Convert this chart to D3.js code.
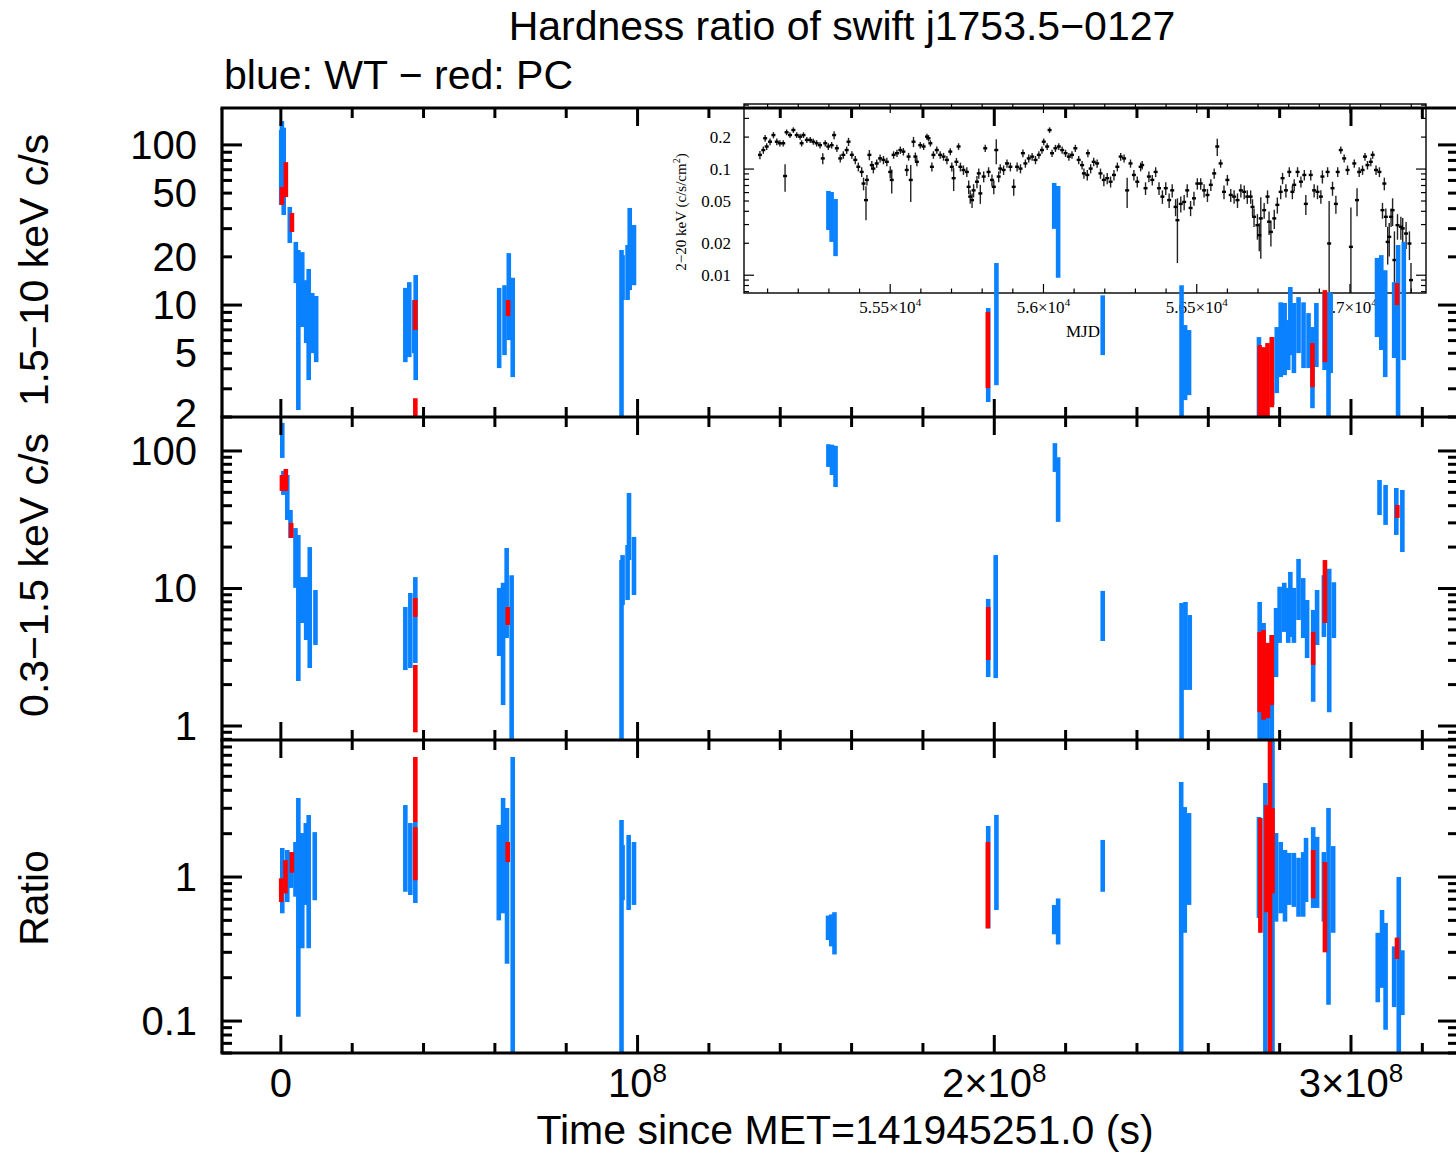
<!DOCTYPE html>
<html>
<head>
<meta charset="utf-8">
<script src="https://cdn.jsdelivr.net/npm/d3@7"></script>
<style>
  body { margin: 0; background: #fff; }
  svg { display: block; }
  text { font-family: "Liberation Sans", Arial, sans-serif; fill: #000; }
  .serif { font-family: "Liberation Serif", "Times New Roman", serif; }
</style>
</head>
<body>
<svg id="chart" width="1456" height="1156"></svg>
<script>
'use strict';

// time in units of 1e6 s since MET=141945251.0 ; each entry [t, low, high]
var hardWT = [
  [0.1, 42.2, 124], [0.3, 70, 141], [0.8, 36.5, 128], [2.5, 24.4, 41], [4.2, 13.7, 24.8],
  [4.9, 2.21, 22.1], [6.0, 7.29, 21.4], [7.1, 5.79, 14.3], [7.8, 3.40, 16.8], [8.8, 5.01, 11.9],
  [9.9, 4.40, 11.4],
  [34.9, 4.40, 12.8], [36.0, 4.73, 13.9], [37.4, 5.01, 10.75], [37.8, 3.40, 15.4],
  [61.2, 4.04, 12.8], [62.7, 4.87, 13.3], [63.9, 6.04, 21.1], [65.0, 3.55, 14.8],
  [95.5, 1.5, 22.1], [95.8, 10.75, 20.5], [97.2, 10.75, 23.7], [97.8, 12.4, 40.4], [99.0, 13.3, 31.6],
  [153.5, 29.4, 51.6], [154.4, 24.8, 50.8], [155.5, 20.2, 46],
  [198.3, 2.48, 9.58], [200.6, 3.16, 18.3],
  [216.8, 29.9, 57.9], [217.9, 14.8, 55.4],
  [230.4, 4.87, 11.5],
  [252.5, 1.5, 13.3], [253.5, 2.55, 7.5], [254.6, 2.74, 6.98],
  [274.2, 1.5, 6.31], [275.4, 1.5, 5.39], [277.9, 2.37, 6.31], [279.2, 2.82, 7.29], [280.3, 3.55, 10.4],
  [281.4, 3.65, 10.3], [282.4, 3.93, 8.06], [283.0, 4.87, 12.96], [284.0, 3.76, 10.3], [285.3, 5.01, 11.2],
  [286.7, 4.04, 10.4], [288.1, 4.04, 8.91], [289.2, 2.27, 7.29], [290.3, 4.10, 10.3], [292.6, 3.93, 11.9],
  [293.7, 1.5, 12.05], [294.3, 3.76, 11.9],
  [307.3, 6.31, 19.7], [308.5, 5.24, 20.5], [309.6, 3.55, 16.5], [312.1, 4.67, 13.9], [313.2, 1.5, 23.7],
  [314.8, 4.53, 24.8]
];
var hardPC = [
  [0.3, 42.2, 54.6], [1.4, 47.3, 78], [3.1, 28.6, 37.6],
  [37.7, 6.98, 10.75], [37.7, 1.5, 2.62],
  [63.7, 8.53, 10.75],
  [198.2, 3.03, 9.04],
  [274.4, 1.5, 5.62], [275.5, 1.5, 5.46], [276.6, 1.5, 5.79], [277.8, 2.30, 6.31], [289.2, 3.07, 5.79],
  [292.7, 4.40, 12.4],
  [312.9, 10, 13.7]
];
var softWT = [
  [0.4, 89, 160], [0.7, 47.9, 71.6], [1.8, 31.5, 66.9], [2.7, 23.3, 37.2], [4.1, 10.1, 27.5],
  [4.9, 2.12, 24.5], [6.0, 5.61, 12.1], [7.1, 4.22, 12.1], [8.1, 2.64, 20.0], [9.7, 3.88, 9.75],
  [34.9, 2.55, 7.33], [36.3, 2.64, 9.27], [37.7, 2.87, 12.1],
  [61.2, 3.23, 10.1], [62.3, 1.42, 11.0], [63.3, 4.36, 19.7], [64.7, 0.5, 12.5],
  [95.5, 0.5, 16.1], [95.8, 7.59, 17.5], [97.2, 8.25, 20.7], [97.6, 16.1, 49.5], [99.0, 8.97, 23.7],
  [153.5, 76.5, 112], [154.5, 66.9, 111], [155.5, 54.7, 109],
  [198.3, 2.27, 8.39], [200.4, 2.23, 17.5],
  [217.0, 70.4, 114], [217.9, 30.5, 90],
  [230.4, 4.15, 9.6],
  [252.5, 0.5, 7.85], [253.6, 1.83, 7.98], [254.8, 1.83, 6.41],
  [274.4, 0.5, 7.98], [275.5, 0.5, 5.61], [276.6, 0.5, 4.02], [277.8, 0.5, 4.59], [279.0, 2.27, 7.21],
  [280.0, 4.02, 10.3], [281.3, 4.83, 11.0], [282.4, 4.02, 10.1], [283.0, 4.44, 13.2], [284.0, 4.02, 10.1],
  [285.3, 5.90, 16.4], [286.6, 4.36, 11.9], [287.7, 3.12, 8.25], [289.4, 1.50, 6.98], [290.5, 3.88, 9.75],
  [292.4, 4.44, 12.5], [293.9, 1.26, 13.9], [295.2, 4.36, 11.1],
  [308.0, 34.2, 61.5], [309.7, 29.0, 56.6], [312.7, 24.5, 53.8], [314.4, 18.4, 52.0]
];
var softPC = [
  [0.3, 51.2, 66.9], [1.4, 51.2, 74], [2.9, 23.3, 30.0],
  [37.7, 6.21, 8.53], [37.7, 0.90, 2.78],
  [63.6, 5.43, 7.33],
  [198.3, 3.02, 7.33],
  [274.4, 1.26, 4.83], [275.5, 1.11, 4.99], [276.7, 1.14, 4.02], [277.8, 1.42, 4.59], [289.4, 2.78, 4.83],
  [292.7, 5.61, 16.1],
  [313.0, 32.6, 40.5]
];
var ratioWT = [
  [0.4, 0.56, 1.59], [1.8, 0.67, 1.54], [2.9, 0.84, 1.49], [4.1, 0.73, 1.75], [4.9, 0.107, 3.54],
  [6.0, 0.32, 2.02], [7.0, 0.64, 2.37], [7.8, 0.32, 2.70], [9.5, 0.69, 2.05],
  [34.9, 0.79, 3.16], [36.3, 0.75, 2.37], [37.7, 0.66, 2.41],
  [61.1, 0.50, 2.30], [62.3, 0.56, 3.54], [63.4, 0.25, 3.01], [65.0, 0.03, 6.81],
  [95.5, 0.03, 2.49], [95.8, 0.69, 1.67], [97.5, 0.59, 1.96], [99.0, 0.64, 1.75],
  [153.4, 0.365, 0.54], [154.3, 0.33, 0.55], [155.2, 0.29, 0.57],
  [198.3, 0.44, 2.26], [200.6, 0.59, 2.70],
  [216.8, 0.40, 0.64], [217.9, 0.34, 0.71],
  [230.4, 0.79, 1.81],
  [252.4, 0.03, 4.57], [253.4, 0.41, 3.06], [254.6, 0.64, 2.78],
  [274.2, 0.52, 2.61], [276.0, 0.03, 4.50], [278.0, 0.03, 20], [279.0, 0.49, 2.02], [280.3, 0.56, 1.75],
  [281.5, 0.49, 1.54], [282.7, 0.64, 1.47], [284.0, 0.62, 1.47], [285.3, 0.53, 1.36], [286.6, 0.53, 1.49],
  [287.4, 0.67, 1.87], [289.4, 0.61, 2.22], [290.5, 0.61, 1.90], [292.4, 0.49, 1.49], [293.7, 0.13, 3.01],
  [295.0, 0.41, 1.64],
  [307.5, 0.135, 0.41], [308.7, 0.17, 0.59], [309.7, 0.087, 0.48], [312.1, 0.125, 0.33], [313.4, 0.03, 1.0],
  [314.4, 0.11, 0.31]
];
var ratioPC = [
  [0.1, 0.67, 0.98], [1.3, 0.77, 1.31], [3.1, 1.07, 1.49],
  [37.7, 2.41, 6.81], [37.7, 0.95, 2.22],
  [63.6, 1.27, 1.75],
  [198.2, 0.44, 1.75],
  [274.6, 0.41, 2.57], [276.3, 0.57, 3.16], [277.3, 0.03, 20], [278.0, 0.77, 3.01], [289.4, 0.71, 1.54],
  [292.7, 0.30, 1.27],
  [312.9, 0.27, 0.38]
];

// inset: 2-20 keV light curve [MJD, flux, error]
var lightCurve = [
  [55075, 0.136, 0.012], [55086, 0.151, 0.012], [55092, 0.195, 0.014], [55097, 0.163, 0.012], [55108, 0.181, 0.013],
  [55119, 0.209, 0.014], [55130, 0.181, 0.013], [55140, 0.175, 0.012], [55151, 0.175, 0.012], [55157, 0.086, 0.025],
  [55162, 0.222, 0.014], [55173, 0.209, 0.013], [55184, 0.233, 0.014], [55195, 0.209, 0.013], [55206, 0.202, 0.013],
  [55211, 0.175, 0.012], [55217, 0.209, 0.013], [55228, 0.188, 0.012], [55239, 0.188, 0.012], [55249, 0.181, 0.012],
  [55260, 0.175, 0.012], [55271, 0.168, 0.012], [55280, 0.126, 0.015], [55288, 0.175, 0.012], [55298, 0.163, 0.012],
  [55309, 0.168, 0.012], [55317, 0.209, 0.018], [55326, 0.157, 0.012], [55337, 0.126, 0.011], [55347, 0.136, 0.011],
  [55358, 0.151, 0.012], [55364, 0.181, 0.016], [55375, 0.136, 0.011], [55386, 0.122, 0.011], [55396, 0.105, 0.01],
  [55407, 0.094, 0.01], [55413, 0.073, 0.01], [55421, 0.051, 0.018], [55424, 0.079, 0.009], [55432, 0.136, 0.015],
  [55440, 0.109, 0.01], [55445, 0.101, 0.01], [55456, 0.113, 0.01], [55467, 0.126, 0.011], [55478, 0.122, 0.011],
  [55489, 0.117, 0.011], [55500, 0.094, 0.012], [55505, 0.079, 0.02], [55511, 0.136, 0.011], [55522, 0.141, 0.011],
  [55533, 0.151, 0.012], [55543, 0.146, 0.012], [55554, 0.098, 0.012], [55560, 0.131, 0.011], [55567, 0.079, 0.03],
  [55576, 0.181, 0.02], [55582, 0.131, 0.012], [55587, 0.117, 0.011], [55598, 0.168, 0.012], [55609, 0.163, 0.012],
  [55620, 0.202, 0.013], [55625, 0.195, 0.013], [55631, 0.175, 0.012], [55636, 0.105, 0.01], [55641, 0.136, 0.011],
  [55652, 0.151, 0.012], [55663, 0.136, 0.011], [55674, 0.131, 0.011], [55685, 0.122, 0.011], [55696, 0.146, 0.011],
  [55701, 0.105, 0.01], [55707, 0.082, 0.02], [55716, 0.117, 0.01], [55723, 0.163, 0.012], [55729, 0.105, 0.01],
  [55739, 0.098, 0.01], [55750, 0.094, 0.01], [55756, 0.068, 0.01], [55761, 0.055, 0.008], [55767, 0.051, 0.008],
  [55772, 0.063, 0.009], [55783, 0.076, 0.01], [55789, 0.091, 0.01], [55794, 0.059, 0.012], [55805, 0.085, 0.01],
  [55810, 0.157, 0.012], [55821, 0.094, 0.01], [55832, 0.079, 0.01], [55838, 0.068, 0.01], [55846, 0.151, 0.04],
  [55854, 0.085, 0.01], [55859, 0.101, 0.01], [55870, 0.098, 0.01], [55881, 0.113, 0.01], [55892, 0.105, 0.01],
  [55903, 0.068, 0.012], [55914, 0.105, 0.01], [55925, 0.101, 0.01], [55933, 0.141, 0.012], [55941, 0.113, 0.01],
  [55952, 0.126, 0.011], [55963, 0.131, 0.011], [55974, 0.122, 0.011], [55985, 0.136, 0.011], [55995, 0.151, 0.012],
  [56001, 0.181, 0.013], [56012, 0.163, 0.012], [56020, 0.233, 0.014], [56028, 0.141, 0.011], [56039, 0.157, 0.012],
  [56050, 0.163, 0.012], [56061, 0.151, 0.012], [56072, 0.141, 0.011], [56083, 0.131, 0.011], [56093, 0.136, 0.011],
  [56104, 0.157, 0.012], [56115, 0.122, 0.011], [56126, 0.109, 0.01], [56132, 0.091, 0.01], [56143, 0.088, 0.01],
  [56145, 0.141, 0.012], [56154, 0.101, 0.01], [56164, 0.117, 0.011], [56175, 0.113, 0.01], [56186, 0.091, 0.01],
  [56197, 0.079, 0.01], [56208, 0.082, 0.01], [56219, 0.076, 0.009], [56230, 0.088, 0.01], [56241, 0.105, 0.01],
  [56252, 0.131, 0.011], [56263, 0.126, 0.011], [56273, 0.063, 0.02], [56284, 0.113, 0.01], [56295, 0.088, 0.01],
  [56306, 0.076, 0.009], [56317, 0.105, 0.01], [56322, 0.109, 0.01], [56333, 0.066, 0.009], [56344, 0.085, 0.01],
  [56355, 0.079, 0.009], [56366, 0.094, 0.01], [56377, 0.066, 0.009], [56388, 0.055, 0.008], [56399, 0.066, 0.009],
  [56410, 0.051, 0.008], [56420, 0.063, 0.009], [56431, 0.044, 0.008], [56437, 0.033, 0.02], [56448, 0.047, 0.008],
  [56459, 0.049, 0.008], [56469, 0.063, 0.009], [56480, 0.043, 0.007], [56491, 0.053, 0.008], [56502, 0.073, 0.009],
  [56513, 0.073, 0.009], [56524, 0.063, 0.009], [56535, 0.057, 0.008], [56546, 0.071, 0.009], [56557, 0.091, 0.01],
  [56567, 0.163, 0.03], [56578, 0.113, 0.01], [56589, 0.061, 0.009], [56600, 0.079, 0.009], [56611, 0.057, 0.008],
  [56622, 0.055, 0.008], [56633, 0.051, 0.008], [56644, 0.063, 0.009], [56655, 0.061, 0.009], [56665, 0.055, 0.008],
  [56676, 0.055, 0.008], [56682, 0.044, 0.008], [56687, 0.0355, 0.007], [56698, 0.0296, 0.008], [56704, 0.0238, 0.007],
  [56709, 0.0343, 0.02], [56720, 0.041, 0.007], [56731, 0.055, 0.008], [56736, 0.0319, 0.008], [56742, 0.0256, 0.007],
  [56753, 0.0343, 0.007], [56763, 0.046, 0.008], [56774, 0.061, 0.009], [56780, 0.082, 0.01], [56791, 0.063, 0.009],
  [56802, 0.094, 0.01], [56812, 0.061, 0.009], [56818, 0.071, 0.009], [56829, 0.094, 0.01], [56840, 0.076, 0.009],
  [56851, 0.088, 0.01], [56856, 0.047, 0.01], [56872, 0.088, 0.01], [56883, 0.063, 0.009], [56894, 0.061, 0.009],
  [56905, 0.055, 0.008], [56910, 0.085, 0.012], [56927, 0.094, 0.01], [56932, 0.0199, 0.03], [56943, 0.066, 0.01],
  [56954, 0.047, 0.009], [56960, 0.094, 0.01], [56970, 0.151, 0.012], [56981, 0.126, 0.011], [56992, 0.098, 0.01],
  [57003, 0.0185, 0.025], [57014, 0.113, 0.01], [57023, 0.051, 0.015], [57030, 0.094, 0.01], [57041, 0.098, 0.01],
  [57049, 0.131, 0.011], [57057, 0.109, 0.01], [57068, 0.117, 0.011], [57074, 0.136, 0.011], [57085, 0.098, 0.01],
  [57096, 0.094, 0.01], [57106, 0.041, 0.007], [57112, 0.073, 0.01], [57117, 0.0355, 0.007], [57123, 0.0206, 0.008],
  [57128, 0.023, 0.008], [57134, 0.0355, 0.007], [57139, 0.041, 0.012], [57145, 0.0139, 0.012], [57155, 0.0296, 0.008],
  [57166, 0.0286, 0.007], [57172, 0.0276, 0.007], [57183, 0.0247, 0.007], [57194, 0.0199, 0.006], [57199, 0.009, 0.004]
];

var hardLabels = [100, 50, 20, 10, 5, 2];
var softLabels = [100, 10, 1];
var ratioLabels = [1, 0.1];
var timeTicks = [0, 1e8, 2e8, 3e8];
var timeTickText = [['0', ''], ['10', '8'], ['2×10', '8'], ['3×10', '8']];
var insetMjdTicks = [55500, 56000, 56500, 57000];
var insetMjdText = ['5.55', '5.6', '5.65', '5.7'];
var insetFluxLabels = [0.2, 0.1, 0.05, 0.02, 0.01];

var BLUE = '#0a82ff';
var RED = '#ff0000';
var LEFT = 222, RIGHT = 1458;

var svg = d3.select('#chart');
svg.append('rect').attr('width', 1456).attr('height', 1156).attr('fill', '#fff');

var x = d3.scaleLinear().domain([-0.165e8, 3.3e8]).range([LEFT, RIGHT]);

var panels = [
  {id: 'hard', top: 108, bottom: 417, domain: [2.0, 170], labels: hardLabels,
    title: '1.5−10 keV c/s', wt: hardWT, pc: hardPC},
  {id: 'soft', top: 417, bottom: 740, domain: [0.791, 176.6], labels: softLabels,
    title: '0.3−1.5 keV c/s', wt: softWT, pc: softPC},
  {id: 'ratio', top: 740, bottom: 1053, domain: [0.060, 8.94], labels: ratioLabels,
    title: 'Ratio', wt: ratioWT, pc: ratioPC}
];
panels.forEach(function (p) {
  p.y = d3.scaleLog().domain(p.domain).range([p.bottom, p.top]);
});

var defs = svg.append('defs');
panels.forEach(function (p) {
  defs.append('clipPath').attr('id', 'clip-' + p.id)
    .append('rect').attr('x', LEFT).attr('y', p.top).attr('width', RIGHT - LEFT).attr('height', p.bottom - p.top);
});

// ---- inset light curve (drawn first so the hardness data sits on top) ----
var ix = d3.scaleLinear().domain([55023, 57248]).range([744, 1426]);
var iy = d3.scaleLog().domain([0.0068, 0.41]).range([293, 104]);
var inset = svg.append('g');
inset.append('rect').attr('x', 744).attr('y', 104).attr('width', 682).attr('height', 189)
  .attr('fill', '#fff');
defs.append('clipPath').attr('id', 'clip-inset')
  .append('rect').attr('x', 744).attr('y', 104).attr('width', 682).attr('height', 189);

var lc = inset.append('g').attr('clip-path', 'url(#clip-inset)');
lc.selectAll('line.err').data(lightCurve).enter().append('line')
  .attr('class', 'err')
  .attr('x1', function (d) { return ix(d[0]); })
  .attr('x2', function (d) { return ix(d[0]); })
  .attr('y1', function (d) { return iy(Math.max(d[1] - d[2], 1e-4)); })
  .attr('y2', function (d) { return iy(d[1] + d[2]); })
  .attr('stroke', '#222').attr('stroke-width', 1.4);
lc.selectAll('line.bin').data(lightCurve).enter().append('line')
  .attr('class', 'bin')
  .attr('x1', function (d) { return ix(d[0]) - 2; })
  .attr('x2', function (d) { return ix(d[0]) + 2; })
  .attr('y1', function (d) { return iy(d[1]); })
  .attr('y2', function (d) { return iy(d[1]); })
  .attr('stroke', '#000').attr('stroke-width', 2.4);

var insetAxes = inset.append('g').attr('stroke', '#000');
d3.range(55100, 57201, 100).forEach(function (m) {
  var major = insetMjdTicks.indexOf(m) >= 0;
  var len = major ? 9 : 4.5;
  insetAxes.append('line').attr('x1', ix(m)).attr('x2', ix(m)).attr('y1', 293).attr('y2', 293 - len).attr('stroke-width', 1.2);
  insetAxes.append('line').attr('x1', ix(m)).attr('x2', ix(m)).attr('y1', 104).attr('y2', 104 + len).attr('stroke-width', 1.2);
});
[0.007, 0.008, 0.009, 0.01, 0.02, 0.03, 0.04, 0.05, 0.06, 0.07, 0.08, 0.09, 0.1, 0.2, 0.3, 0.4].forEach(function (v) {
  var major = (v === 0.01 || v === 0.1);
  var len = major ? 10 : 5;
  insetAxes.append('line').attr('x1', 744).attr('x2', 744 + len).attr('y1', iy(v)).attr('y2', iy(v)).attr('stroke-width', 1.2);
  insetAxes.append('line').attr('x1', 1426).attr('x2', 1426 - len).attr('y1', iy(v)).attr('y2', iy(v)).attr('stroke-width', 1.2);
});
inset.append('rect').attr('x', 744).attr('y', 104).attr('width', 682).attr('height', 189)
  .attr('fill', 'none').attr('stroke', '#000').attr('stroke-width', 1.4);

insetFluxLabels.forEach(function (v) {
  inset.append('text').attr('class', 'serif').attr('x', 731).attr('y', iy(v) + 6)
    .attr('text-anchor', 'end').style('font-size', '17px').text(v);
});
insetMjdTicks.forEach(function (m, i) {
  var t = inset.append('text').attr('class', 'serif').attr('x', ix(m)).attr('y', 313)
    .attr('text-anchor', 'middle').style('font-size', '17px');
  t.append('tspan').text(insetMjdText[i] + '×10');
  t.append('tspan').attr('dy', -7).style('font-size', '11px').text('4');
});
inset.append('text').attr('class', 'serif').attr('x', 1083).attr('y', 337)
  .attr('text-anchor', 'middle').style('font-size', '17px').text('MJD');
var iyl = inset.append('text').attr('class', 'serif')
  .attr('transform', 'translate(686,212) rotate(-90)')
  .attr('text-anchor', 'middle').style('font-size', '15px');
iyl.append('tspan').text('2−20 keV (c/s/cm');
iyl.append('tspan').attr('dy', -6).style('font-size', '10px').text('2');
iyl.append('tspan').attr('dy', 6).text(')');

// ---- hardness panels ----
function drawBars(g, p, data, colour) {
  g.selectAll(null).data(data).enter().append('line')
    .attr('x1', function (d) { return x(d[0] * 1e6); })
    .attr('x2', function (d) { return x(d[0] * 1e6); })
    .attr('y1', function (d) { return p.y(d[1]); })
    .attr('y2', function (d) { return p.y(d[2]); })
    .attr('stroke', colour).attr('stroke-width', 4.6);
}

panels.forEach(function (p) {
  var g = svg.append('g').attr('clip-path', 'url(#clip-' + p.id + ')');
  drawBars(g, p, p.wt, BLUE);
  drawBars(g, p, p.pc, RED);
});

// ---- axes ----
var axes = svg.append('g').attr('stroke', '#000');
[108, 417, 740, 1053].forEach(function (yy) {
  axes.append('line').attr('x1', LEFT - 1.5).attr('x2', RIGHT + 1.5).attr('y1', yy).attr('y2', yy).attr('stroke-width', 3.2);
});
axes.append('line').attr('x1', LEFT).attr('x2', LEFT).attr('y1', 108).attr('y2', 1053).attr('stroke-width', 3.2);
axes.append('line').attr('x1', RIGHT).attr('x2', RIGHT).attr('y1', 108).attr('y2', 1053).attr('stroke-width', 3.2);

var minorTimes = d3.range(0, 3.3e8, 2e7);
panels.forEach(function (p) {
  minorTimes.forEach(function (t) {
    var major = timeTicks.indexOf(t) >= 0;
    var len = major ? 18 : 10;
    axes.append('line').attr('x1', x(t)).attr('x2', x(t)).attr('y1', p.top).attr('y2', p.top + len).attr('stroke-width', 3);
    axes.append('line').attr('x1', x(t)).attr('x2', x(t)).attr('y1', p.bottom).attr('y2', p.bottom - len).attr('stroke-width', 3);
  });
  var lo = Math.floor(Math.log10(p.domain[0])), hi = Math.ceil(Math.log10(p.domain[1]));
  for (var k = lo; k <= hi; k++) {
    for (var m = 1; m < 10; m++) {
      var v = m * Math.pow(10, k);
      if (v < p.domain[0] || v > p.domain[1]) { continue; }
      var len = (m === 1) ? 20 : 10;
      var yy = p.y(v);
      axes.append('line').attr('x1', LEFT).attr('x2', LEFT + len).attr('y1', yy).attr('y2', yy).attr('stroke-width', 3);
      axes.append('line').attr('x1', RIGHT).attr('x2', RIGHT - len).attr('y1', yy).attr('y2', yy).attr('stroke-width', 3);
    }
  }
  p.labels.forEach(function (v) {
    // the lowest label of the top panel sits on the panel edge; lift it a little
    var dy = (p.id === 'hard' && v === 2) ? 10 : 14;
    svg.append('text').attr('x', 197).attr('y', p.y(v) + dy)
      .attr('text-anchor', 'end').style('font-size', '40px').text(v);
  });
});

// y axis titles
svg.append('text').attr('transform', 'translate(48,270) rotate(-90)')
  .attr('text-anchor', 'middle').style('font-size', '41px').text(panels[0].title);
svg.append('text').attr('transform', 'translate(48,575) rotate(-90)')
  .attr('text-anchor', 'middle').style('font-size', '41px').text(panels[1].title);
svg.append('text').attr('transform', 'translate(48,898) rotate(-90)')
  .attr('text-anchor', 'middle').style('font-size', '41px').text(panels[2].title);

// x tick labels
timeTicks.forEach(function (t, i) {
  var txt = svg.append('text').attr('x', x(t)).attr('y', 1097)
    .attr('text-anchor', 'middle').style('font-size', '40px');
  txt.append('tspan').text(timeTickText[i][0]);
  if (timeTickText[i][1]) {
    txt.append('tspan').attr('dy', -15).style('font-size', '26px').text(timeTickText[i][1]);
  }
});

svg.append('text').attr('x', 845).attr('y', 1144).attr('text-anchor', 'middle')
  .style('font-size', '41px').text('Time since MET=141945251.0 (s)');

// titles
svg.append('text').attr('x', 842).attr('y', 40).attr('text-anchor', 'middle')
  .style('font-size', '41px').text('Hardness ratio of swift j1753.5−0127');
svg.append('text').attr('x', 224).attr('y', 89)
  .style('font-size', '41px').text('blue: WT − red: PC');
</script>
</body>
</html>
